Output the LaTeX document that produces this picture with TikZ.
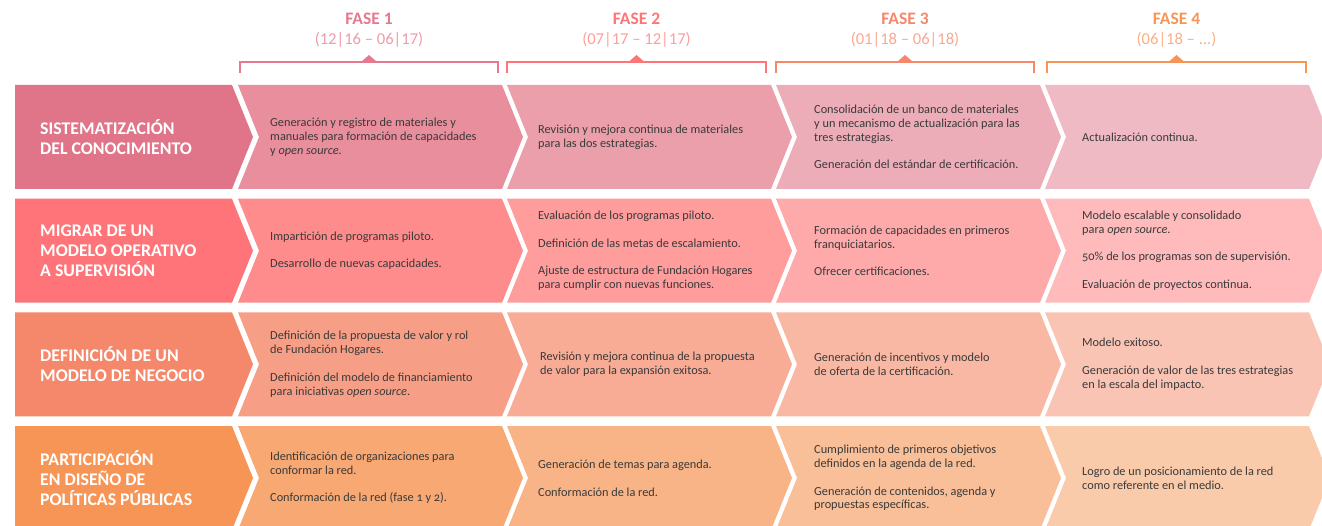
\documentclass[tikz,border=0pt]{standalone}
\usepackage{fontspec}
\setmainfont{Carlito}
\newfontfamily\bodyfont[Numbers=OldStyle]{Carlito}

\definecolor{textgray}{HTML}{3A3A3A}
% phase colours
\definecolor{fase1}{HTML}{E5798D}
\definecolor{fase2}{HTML}{FF7476}
\definecolor{fase3}{HTML}{F5876A}
\definecolor{fase4}{HTML}{F69556}
\definecolor{date1}{HTML}{EE9BAA}
\definecolor{date2}{HTML}{FF9D9C}
\definecolor{date3}{HTML}{F9A992}
\definecolor{date4}{HTML}{F9B084}
% row colours, col0 = label block
\definecolor{row1col0}{HTML}{E07589}
\definecolor{row1col1}{HTML}{E88E9C}
\definecolor{row1col2}{HTML}{EA9FAA}
\definecolor{row1col3}{HTML}{EDADB8}
\definecolor{row1col4}{HTML}{F0BAC5}
\definecolor{row2col0}{HTML}{FF7479}
\definecolor{row2col1}{HTML}{FF8C8C}
\definecolor{row2col2}{HTML}{FF9C9C}
\definecolor{row2col3}{HTML}{FFAAAA}
\definecolor{row2col4}{HTML}{FFBBBB}
\definecolor{row3col0}{HTML}{F5876A}
\definecolor{row3col1}{HTML}{F79F86}
\definecolor{row3col2}{HTML}{F8AC95}
\definecolor{row3col3}{HTML}{F9B8A4}
\definecolor{row3col4}{HTML}{FAC4B4}
\definecolor{row4col0}{HTML}{F69556}
\definecolor{row4col1}{HTML}{F7A873}
\definecolor{row4col2}{HTML}{F8B486}
\definecolor{row4col3}{HTML}{F9BF98}
\definecolor{row4col4}{HTML}{FACBAB}

\begin{document}
\begin{tikzpicture}[x=1pt, y=-1pt,
            row-label/.style={anchor=west,align=left,text=white,inner sep=0pt,
                font=\fontsize{17.8}{20}\selectfont\bfseries},
            cell-text/.style={anchor=west,align=left,text=textgray,inner sep=0pt,
                font=\bodyfont\fontsize{12.3}{13.8}\selectfont},
            fase-title/.style={inner sep=0pt,font=\fontsize{17.5}{19}\selectfont\bfseries},
            fase-date/.style={inner sep=0pt,font=\fontsize{16.6}{19}\selectfont},
            fase-bracket/.style={line width=1.8pt},
        ]
            \useasboundingbox (0,0) rectangle (1322,526);

            % chevrons
            \foreach \r/\top in {1/85, 2/198.7, 3/312.3, 4/426} {
                \fill[row\r col0] (15,\top) -- (232,\top) -- ++(21,52) -- ++(-21,52) -- (15,\top+104) -- cycle;
                \foreach \c in {1,...,4} {
                    \pgfmathsetmacro\L{238+269*(\c-1)}
                    \fill[row\r col\c] (\L,\top) -- ++(264,0) -- ++(21,52) -- ++(-21,52)
                        -- ++(-264,0) -- ++(21,-52) -- cycle;
                }
            }

            % phases
            \node[fase-title,text=fase1] (f1) at (369,19) {FASE 1};
            \node[fase-title,text=fase2] (f2) at (636.5,19) {FASE 2};
            \node[fase-title,text=fase3] (f3) at (905,19) {FASE 3};
            \node[fase-title,text=fase4] (f4) at (1176.5,19) {FASE 4};
            \node[fase-date,text=date1] (d1) at (369,40) {(12|16 – 06|17)};
            \node[fase-date,text=date2] (d2) at (636.5,40) {(07|17 – 12|17)};
            \node[fase-date,text=date3] (d3) at (905,40) {(01|18 – 06|18)};
            \node[fase-date,text=date4] (d4) at (1176.5,40) {(06|18 – ...)};

            \draw[fase-bracket,fase1] (240,73) -- (240,62) -- (498,62) -- (498,73);
            \draw[fase-bracket,fase2] (507,73) -- (507,62) -- (766,62) -- (766,73);
            \draw[fase-bracket,fase3] (776,73) -- (776,62) -- (1034,62) -- (1034,73);
            \draw[fase-bracket,fase4] (1047,73) -- (1047,62) -- (1306,62) -- (1306,73);
            \fill[fase1] (361,62) -- (369,55) -- (377,62) -- cycle;
            \fill[fase2] (628.5,62) -- (636.5,55) -- (644.5,62) -- cycle;
            \fill[fase3] (897,62) -- (905,55) -- (913,62) -- cycle;
            \fill[fase4] (1168.5,62) -- (1176.5,55) -- (1184.5,62) -- cycle;

            % row labels
            \node[row-label] (lab1) at (40,137) {SISTEMATIZACIÓN\\DEL CONOCIMIENTO};
            \node[row-label] (lab2) at (40,250.7) {MIGRAR DE UN\\MODELO OPERATIVO\\A SUPERVISIÓN};
            \node[row-label] (lab3) at (40,364.3) {DEFINICIÓN DE UN\\MODELO DE NEGOCIO};
            \node[row-label] (lab4) at (40,478) {PARTICIPACIÓN\\EN DISEÑO DE\\POLÍTICAS PÚBLICAS};

            % row 1
            \node[cell-text] (c11) at (270,137) {Generación y registro de materiales y\\
                manuales para formación de capacidades\\y \textit{open source}.};
            \node[cell-text] (c12) at (538,137) {Revisión y mejora continua de materiales\\
                para las dos estrategias.};
            \node[cell-text] (c13) at (814,137) {Consolidación de un banco de materiales\\
                y un mecanismo de actualización para las\\tres estrategias.\\[13.8pt]
                Generación del estándar de certificación.};
            \node[cell-text] (c14) at (1082,137) {Actualización continua.};

            % row 2
            \node[cell-text] (c21) at (270,250.7) {Impartición de programas piloto.\\[13.8pt]
                Desarrollo de nuevas capacidades.};
            \node[cell-text] (c22) at (538,250.7) {Evaluación de los programas piloto.\\[13.8pt]
                Definición de las metas de escalamiento.\\[13.8pt]
                Ajuste de estructura de Fundación Hogares\\para cumplir con nuevas funciones.};
            \node[cell-text] (c23) at (814,250.7) {Formación de capacidades en primeros\\
                franquiciatarios.\\[13.8pt]Ofrecer certificaciones.};
            \node[cell-text] (c24) at (1082,250.7) {Modelo escalable y consolidado\\
                para \textit{open source}.\\[13.8pt]50\% de los programas son de supervisión.\\[13.8pt]
                Evaluación de proyectos continua.};

            % row 3
            \node[cell-text] (c31) at (270,364.3) {Definición de la propuesta de valor y rol\\
                de Fundación Hogares.\\[13.8pt]Definición del modelo de financiamiento\\
                para iniciativas \textit{open source}.};
            \node[cell-text] (c32) at (540,364.3) {Revisión y mejora continua de la propuesta\\
                de valor para la expansión exitosa.};
            \node[cell-text] (c33) at (814,364.3) {Generación de incentivos y modelo\\
                de oferta de la certificación.};
            \node[cell-text] (c34) at (1082,364.3) {Modelo exitoso.\\[13.8pt]
                Generación de valor de las tres estrategias\\en la escala del impacto.};

            % row 4
            \node[cell-text] (c41) at (270,478) {Identificación de organizaciones para\\
                conformar la red.\\[13.8pt]Conformación de la red (fase 1 y 2).};
            \node[cell-text] (c42) at (538,478) {Generación de temas para agenda.\\[13.8pt]
                Conformación de la red.};
            \node[cell-text] (c43) at (814,478) {Cumplimiento de primeros objetivos\\
                definidos en la agenda de la red.\\[13.8pt]Generación de contenidos, agenda y\\
                propuestas específicas.};
            \node[cell-text] (c44) at (1082,478) {Logro de un posicionamiento de la red\\
                como referente en el medio.};
        \end{tikzpicture}
\end{document}
